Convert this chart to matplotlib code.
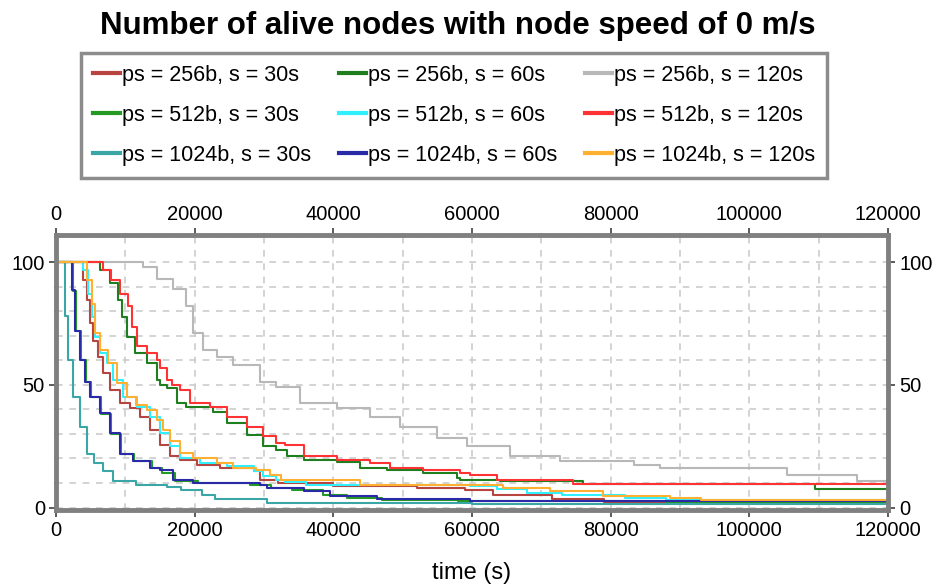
import matplotlib
matplotlib.use("Agg")
import matplotlib.pyplot as plt
from matplotlib.ticker import MultipleLocator

plt.rcParams['font.family'] = ['Liberation Sans', 'DejaVu Sans']

# step curves: time (s) -> alive nodes
t_256_30 = [0, 3000, 3940, 4430, 4900, 5380, 6100, 6800, 7800, 9230, 10700, 12100, 13600, 15000, 16400,
            17900, 20300, 23700, 28500, 29400, 32000, 40000, 52000, 59000, 63000, 71500, 79000, 120000]
v_256_30 = [100, 100, 92.7, 84.5, 75, 68, 61.5, 55, 48, 42.6, 40.6, 37, 31.7, 25.5, 21,
            19.5, 17.5, 16.3, 14.8, 11.4, 10, 8.7, 8, 7, 5.3, 3.3, 2.3, 2]

t_256_60 = [0, 5400, 6350, 7800, 9000, 9500, 10200, 11400, 13100, 14500, 15000, 16000, 17400, 18800, 22700,
            24600, 27500, 29900, 31800, 33300, 35700, 40500, 43800, 47700, 53000, 57800, 58300, 64000, 76000,
            109500, 120000]
v_256_60 = [100, 100, 96.7, 91.5, 84.5, 77.8, 69.6, 63, 59, 52, 50, 48.8, 42.6, 41, 39,
            34.5, 29.7, 25, 23.6, 21, 19.5, 18.4, 16.3, 15.4, 14.2, 12.2, 11.4, 10.7, 9.5,
            7.7, 7.7]

t_256_120 = [0, 10700, 12500, 14500, 16900, 18800, 19800, 21200, 23200, 25600, 29400, 31800, 35200, 40500,
             45300, 49600, 54900, 59300, 65500, 72700, 83300, 87100, 105400, 115500, 120000]
v_256_120 = [100, 100, 98, 93, 89, 82, 71, 64, 61.5, 58, 51, 49, 42.6, 40.6,
             37, 33, 28.5, 25, 21, 18.8, 17.5, 16.2, 13.4, 11, 11]

t_512_30 = [0, 1600, 2400, 2900, 3600, 4300, 5100, 6500, 8000, 9400, 11300, 13800, 15300, 17200, 20500,
            28000, 31000, 34000, 38500, 42000, 47000, 58000, 88000, 120000]
v_512_30 = [100, 100, 88, 72, 60, 51, 45, 38, 30, 22, 19, 16, 14, 11, 10,
            9, 8, 7, 5, 4, 3, 2.5, 2, 1.5]

t_512_60 = [0, 3200, 3940, 4660, 5150, 5630, 6350, 7300, 8260, 9700, 11640, 13560, 15000, 16400, 17900,
            20800, 24600, 28500, 29900, 31800, 33000, 36000, 59700, 63600, 68000, 73000, 82000, 88000, 120000]
v_512_60 = [100, 100, 96.7, 87, 77.8, 69.6, 63, 59, 52, 45, 41, 37, 30.5, 25, 20.3,
            18.3, 16.8, 14.8, 12.7, 11.4, 10.5, 9.3, 8.7, 7.5, 6, 5, 4, 3, 2.5]

t_512_120 = [0, 5870, 6800, 8000, 9230, 10400, 10900, 11640, 13100, 14500, 15000, 16000, 16700, 17900, 19300,
             22200, 24600, 27500, 29900, 31800, 33000, 35700, 40500, 45300, 48200, 53000, 58300, 59700, 63600,
             74600, 120000]
v_512_120 = [100, 100, 96.7, 92.7, 87, 82, 73.7, 65.6, 63, 60, 57, 52, 50, 48, 42.6,
             41, 37, 33, 29, 26.4, 25.6, 21, 19.5, 18.3, 16.3, 15.4, 14.2, 13.4, 11.4,
             9.5, 9.5]

t_1024_30 = [0, 800, 1300, 1700, 2500, 3500, 4400, 5500, 6800, 8200, 11600, 16000, 18000, 21000, 23000,
             30400, 60000, 120000]
v_1024_30 = [100, 100, 78, 60, 45, 33, 22, 18, 15, 11, 9.3, 8.5, 7.3, 5.3, 3.3,
             2, 1.5, 1.2]

t_1024_60 = [0, 1500, 2260, 2740, 3460, 4180, 4900, 6350, 7800, 9230, 11100, 13560, 15000, 16900, 19800,
             29400, 30400, 35700, 39500, 46300, 59700, 120000]
v_1024_60 = [100, 100, 88.6, 72, 60, 51, 45, 38.6, 30.4, 22, 18.8, 16, 15.4, 11.4, 10,
             9.3, 8, 6.6, 4.6, 3.6, 2.6, 2]

t_1024_120 = [0, 3460, 4430, 5150, 5630, 6350, 7500, 8750, 10200, 11600, 13100, 14500, 15500, 16400, 17900,
              19800, 23200, 25600, 28900, 30900, 32500, 43800, 64500, 71300, 78900, 88600, 93000, 115500, 120000]
v_1024_120 = [100, 100, 92.7, 83, 71, 64, 59, 50.8, 45, 41.9, 39.8, 35.8, 31.7, 27, 22.4,
              20.3, 18.3, 16.3, 15.4, 13.4, 11.4, 9.3, 8, 6.6, 4.9, 3.7, 3.2, 3, 3]

# legend order is column-wise (matplotlib fills columns first)
series = [
    ("ps = 256b, s = 30s", t_256_30, v_256_30, "#b8443f"),
    ("ps = 512b, s = 30s", t_512_30, v_512_30, "#249a24"),
    ("ps = 1024b, s = 30s", t_1024_30, v_1024_30, "#3aa6a6"),
    ("ps = 256b, s = 60s", t_256_60, v_256_60, "#1f7f1f"),
    ("ps = 512b, s = 60s", t_512_60, v_512_60, "#30f0ff"),
    ("ps = 1024b, s = 60s", t_1024_60, v_1024_60, "#2a2aa8"),
    ("ps = 256b, s = 120s", t_256_120, v_256_120, "#b8b8b8"),
    ("ps = 512b, s = 120s", t_512_120, v_512_120, "#ff3333"),
    ("ps = 1024b, s = 120s", t_1024_120, v_1024_120, "#ffb030"),
]

fig = plt.figure(figsize=(9.43, 5.87), dpi=100)
ax = fig.add_axes([56 / 943, 1 - 510 / 587, 832 / 943, 275 / 587])

handles = []
for label, t, v, c in series:
    h, = ax.step(t, v, where='post', color=c, lw=1.5, label=label)
    handles.append(h)

ax.set_xlim(0, 120000)
ax.set_ylim(-1, 111)
ax.xaxis.set_major_locator(MultipleLocator(20000))
ax.xaxis.set_minor_locator(MultipleLocator(10000))
ax.yaxis.set_major_locator(MultipleLocator(50))
ax.yaxis.set_minor_locator(MultipleLocator(10))
ax.grid(which='both', color='#cccccc', linestyle=(0, (4, 4)), lw=1.2)
ax.set_axisbelow(True)

for s in ax.spines.values():
    s.set_color('#808080')
    s.set_linewidth(3.5)

ax.tick_params(which='both', top=True, right=True, labeltop=True, labelright=True,
               color='#404040', labelsize=14.5)
ax.tick_params(which='major', length=5, width=1.2, direction='out', pad=3)
ax.tick_params(which='minor', length=3, width=1.2, direction='inout')

ax.set_xlabel("time (s)", fontsize=17, labelpad=16)
fig.text(458 / 943, 1 - 26 / 587, "Number of alive nodes with node speed of 0 m/s",
         ha='center', va='center', fontsize=22.5, fontweight='bold')

leg = fig.legend(handles=handles, ncol=3, loc='upper center', bbox_to_anchor=(454 / 943, 1 - 53 / 587),
                 fontsize=15.5, frameon=True, fancybox=False, handlelength=1.25, handletextpad=0.1,
                 columnspacing=1.3, labelspacing=0.88, borderpad=0.55, borderaxespad=0)
leg.get_frame().set_edgecolor('#707070')
leg.get_frame().set_linewidth(2.5)
for line in leg.get_lines():
    line.set_linewidth(3)

fig.savefig("out.png", dpi=100)
